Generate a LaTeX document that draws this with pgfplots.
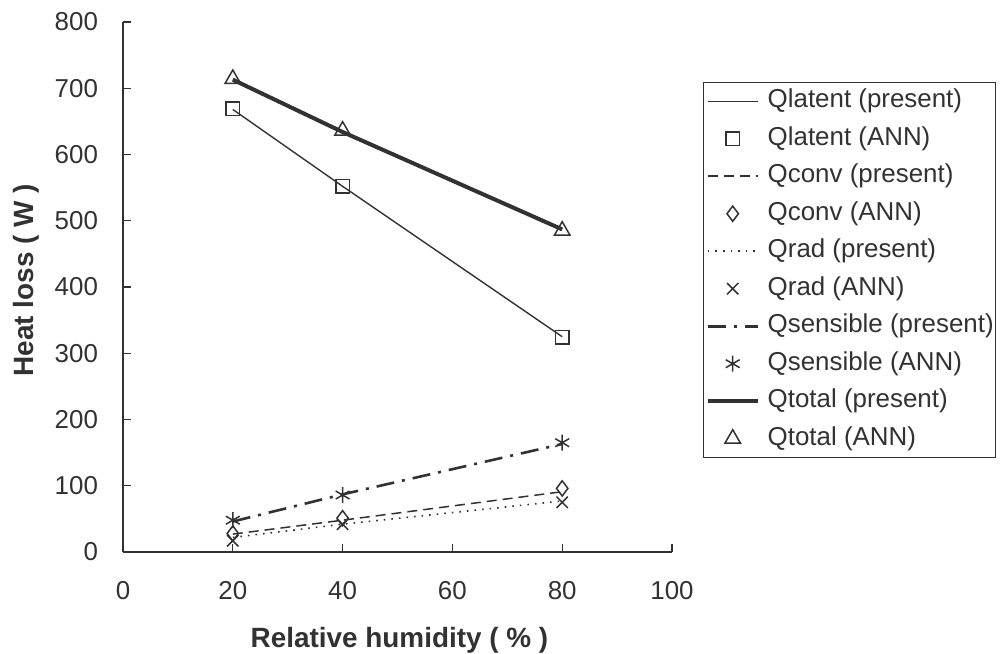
\documentclass[border=0pt]{standalone}
\usepackage{fontspec}
\setmainfont{Liberation Sans}
\usepackage{pgfplots}
\pgfplotsset{compat=1.18}
\definecolor{ink}{RGB}{50,50,50}
\begin{document}
\begin{tikzpicture}
\useasboundingbox (-61.5bp,-51bp) rectangle (438.5bp,276bp);
\begin{axis}[
  scale only axis, width=274.5bp, height=265bp,
  xmin=0, xmax=100, ymin=0, ymax=800,
  axis lines=left, axis line style={ink, line width=0.8bp, -},
  xtick={0,20,...,100}, ytick={0,100,...,800},
  tick align=inside, major tick length=4bp,
  tick style={ink, line width=0.7bp},
  /pgf/number format/assume math mode=true,
  xticklabel style={font=\fontsize{13}{15}\selectfont, text=ink, yshift=-11bp},
  yticklabel style={font=\fontsize{13}{15}\selectfont, text=ink, xshift=-9bp},
  xlabel={Relative humidity ( \% )},
  ylabel={Heat loss ( W )},
  xlabel style={at={(axis description cs:0.5036,-0.181)}, anchor=base, font=\fontsize{14}{16}\selectfont\bfseries, text=ink},
  ylabel style={at={(axis description cs:-0.1767,0.513)}, anchor=center, font=\fontsize{14}{16}\selectfont\bfseries, text=ink},
  legend style={at={(axis description cs:1.0565,0.8868)}, anchor=north west,
    draw=ink, line width=0.7bp, inner xsep=1bp, inner ysep=1bp, fill=white,
    font=\fontsize{13}{15}\selectfont, text=ink, row sep=2.25bp,
    nodes={inner sep=0pt, text height=11.5bp, text depth=5bp},
    /tikz/every odd column/.append style={column sep=4bp},
    /tikz/every even column/.append style={column sep=6bp}},
  legend cell align=left,
  legend image code/.code={\draw[mark repeat=2,mark phase=2,#1] plot coordinates {(0bp,0bp) (12.5bp,0bp) (25bp,0bp)};},
]
\addplot[ink, line width=0.7bp, solid, no marks] coordinates {(20,668) (40,552) (80,325)};
\addlegendentry{Qlatent (present)}
\addplot[ink, line width=0.75bp, only marks, mark=square, mark size=3.4bp, mark options={solid}] coordinates {(20,669) (40,552) (80,324)};
\addlegendentry{Qlatent (ANN)}
\addplot[ink, line width=0.75bp, dash pattern=on 5bp off 3bp, no marks] coordinates {(20,27) (40,48) (80,91)};
\addlegendentry{Qconv (present)}
\addplot[ink, line width=0.75bp, only marks, mark=diamond, mark size=3.8bp, mark options={solid}] coordinates {(20,28) (40,51) (80,96)};
\addlegendentry{Qconv (ANN)}
\addplot[ink, line width=0.8bp, dash pattern=on 0.8bp off 3bp, no marks] coordinates {(20,22) (40,42) (80,77)};
\addlegendentry{Qrad (present)}
\addplot[ink, line width=0.75bp, only marks, mark=x, mark size=4bp, mark options={solid}] coordinates {(20,17) (40,42) (80,75)};
\addlegendentry{Qrad (ANN)}
\addplot[ink, line width=1.3bp, dash pattern=on 9bp off 4bp on 1.5bp off 4bp, no marks] coordinates {(20,46) (40,87) (80,163)};
\addlegendentry{Qsensible (present)}
\addplot[ink, line width=0.75bp, only marks, mark=asterisk, mark size=4bp, mark options={solid}] coordinates {(20,48) (40,86) (80,165)};
\addlegendentry{Qsensible (ANN)}
\addplot[ink, line width=2bp, solid, no marks] coordinates {(20,713) (40,634) (80,487)};
\addlegendentry{Qtotal (present)}
\addplot[ink, line width=0.75bp, only marks, mark=triangle, mark size=4.5bp, mark options={solid}] coordinates {(20,714) (40,636) (80,485)};
\addlegendentry{Qtotal (ANN)}
\end{axis}
\end{tikzpicture}
\end{document}
